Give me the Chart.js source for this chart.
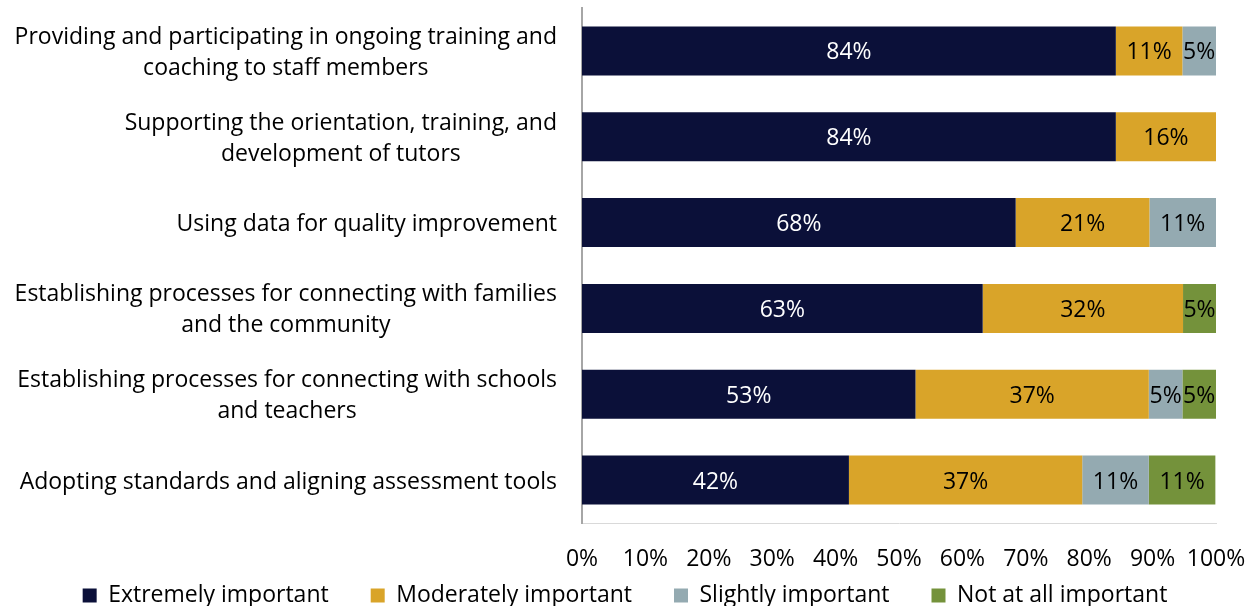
<!DOCTYPE html>
<html>
<head>
<meta charset="utf-8">
<script src="https://cdn.jsdelivr.net/npm/chart.js@4.4.0/dist/chart.umd.min.js"></script>
<style>
  html, body { margin: 0; padding: 0; background: #fff; }
  #wrap { width: 1258px; height: 606px; }
</style>
</head>
<body>
<div id="wrap"><canvas id="importanceChart"></canvas></div>
<script>
// categories, one array of lines per label
const categories = [
  ['Providing and participating in ongoing training and', 'coaching to staff members'],
  ['Supporting the orientation, training, and', 'development of tutors'],
  ['Using data for quality improvement'],
  ['Establishing processes for connecting with families', 'and the community'],
  ['Establishing processes for connecting with schools', 'and teachers'],
  ['Adopting standards and aligning assessment tools']
];

const seriesNames = ['Extremely important', 'Moderately important', 'Slightly important', 'Not at all important'];
const seriesColors = ['#0b1039', '#d9a429', '#94aab1', '#74923b'];

// percent values
const extremelyImportant = [84.2, 84.2, 68.4, 63.2, 52.6, 42.1];
const moderatelyImportant = [10.5, 15.8, 21.1, 31.6, 36.8, 36.8];
const slightlyImportant = [5.3, 0, 10.5, 0, 5.3, 10.5];
const notAtAllImportant = [0, 0, 0, 5.2, 5.3, 10.5];

// x axis: 0% .. 100% every 10
const xMin = 0, xMax = 100, xStep = 10;

const FONT = 'Open Sans';
const FONT_SIZE = 23;

// --- draw the category labels: block right-aligned, lines centred ---
const categoryLabels = {
  id: 'categoryLabels',
  afterDraw(chart) {
    const ctx = chart.ctx;
    const yScale = chart.scales.y;
    const right = yScale.right - 25;
    const lineGap = 31;
    ctx.save();
    ctx.font = FONT_SIZE + 'px "' + FONT + '"';
    ctx.fillStyle = '#000';
    ctx.textAlign = 'center';
    ctx.textBaseline = 'middle';
    categories.forEach((lines, i) => {
      const py = yScale.getPixelForTick(i) + 2;
      const widest = Math.max(...lines.map(l => ctx.measureText(l).width));
      const cx = right - widest / 2;
      lines.forEach((line, j) => {
        ctx.fillText(line, cx, py + (j - (lines.length - 1) / 2) * lineGap);
      });
    });
    ctx.restore();
  }
};

// --- percent labels in the middle of each segment ---
const segmentLabels = {
  id: 'segmentLabels',
  afterDatasetsDraw(chart) {
    const ctx = chart.ctx;
    ctx.save();
    ctx.font = FONT_SIZE + 'px "' + FONT + '"';
    ctx.textAlign = 'center';
    ctx.textBaseline = 'middle';
    chart.data.datasets.forEach((ds, di) => {
      chart.getDatasetMeta(di).data.forEach((bar, i) => {
        const v = ds.data[i];
        if (!v) return;
        const p = bar.getProps(['x', 'y', 'base'], true);
        ctx.fillStyle = di === 0 ? '#fff' : '#000';
        ctx.fillText(Math.round(v) + '%', (p.x + p.base) / 2, p.y + 2);
      });
    });
    ctx.restore();
  }
};

// after layout: let the x labels draw below the (thin) axis box,
// and move the legend a bit down and right
const layoutTweaks = {
  id: 'layoutTweaks',
  afterLayout(chart) {
    chart.scales.x.bottom = chart.height;
    const lg = chart.legend;
    lg.top += 11;
    lg.bottom += 11;
    lg.left += 17;
    lg.right += 17;
  }
};

const allSeries = [extremelyImportant, moderatelyImportant, slightlyImportant, notAtAllImportant];

new Chart(document.getElementById('importanceChart'), {
  type: 'bar',
  data: {
    labels: categories,
    datasets: allSeries.map((vals, k) => ({
      label: seriesNames[k],
      data: vals,
      backgroundColor: seriesColors[k],
      borderWidth: 0,
      barPercentage: 0.57,
      categoryPercentage: 1
    }))
  },
  options: {
    indexAxis: 'y',
    responsive: true,
    maintainAspectRatio: false,
    animation: false,
    layout: { padding: { top: 8, right: 42, left: 0, bottom: 0 } },
    plugins: {
      tooltip: { enabled: false },
      legend: {
        position: 'bottom',
        labels: {
          boxWidth: 14,
          boxHeight: 14,
          padding: 42,
          color: '#000',
          font: { family: FONT, size: FONT_SIZE }
        }
      }
    },
    scales: {
      x: {
        stacked: true,
        min: xMin,
        max: xMax,
        afterFit(s) {
          s.height = 8;
          s.paddingLeft = 0;
          s.paddingRight = 0;
        },
        grid: { display: false, drawTicks: false },
        border: { display: true, color: '#d9d9d9', width: 1 },
        ticks: {
          stepSize: xStep,
          padding: 23,
          color: '#000',
          maxRotation: 0,
          autoSkip: false,
          font: { family: FONT, size: FONT_SIZE },
          callback: v => v + '%'
        }
      },
      y: {
        stacked: true,
        afterFit(s) { s.width = 582; },
        grid: { display: false, drawTicks: false },
        border: { display: true, color: '#a6a6a6', width: 2 },
        ticks: { display: false }
      }
    }
  },
  plugins: [categoryLabels, segmentLabels, layoutTweaks]
});
</script>
</body>
</html>
